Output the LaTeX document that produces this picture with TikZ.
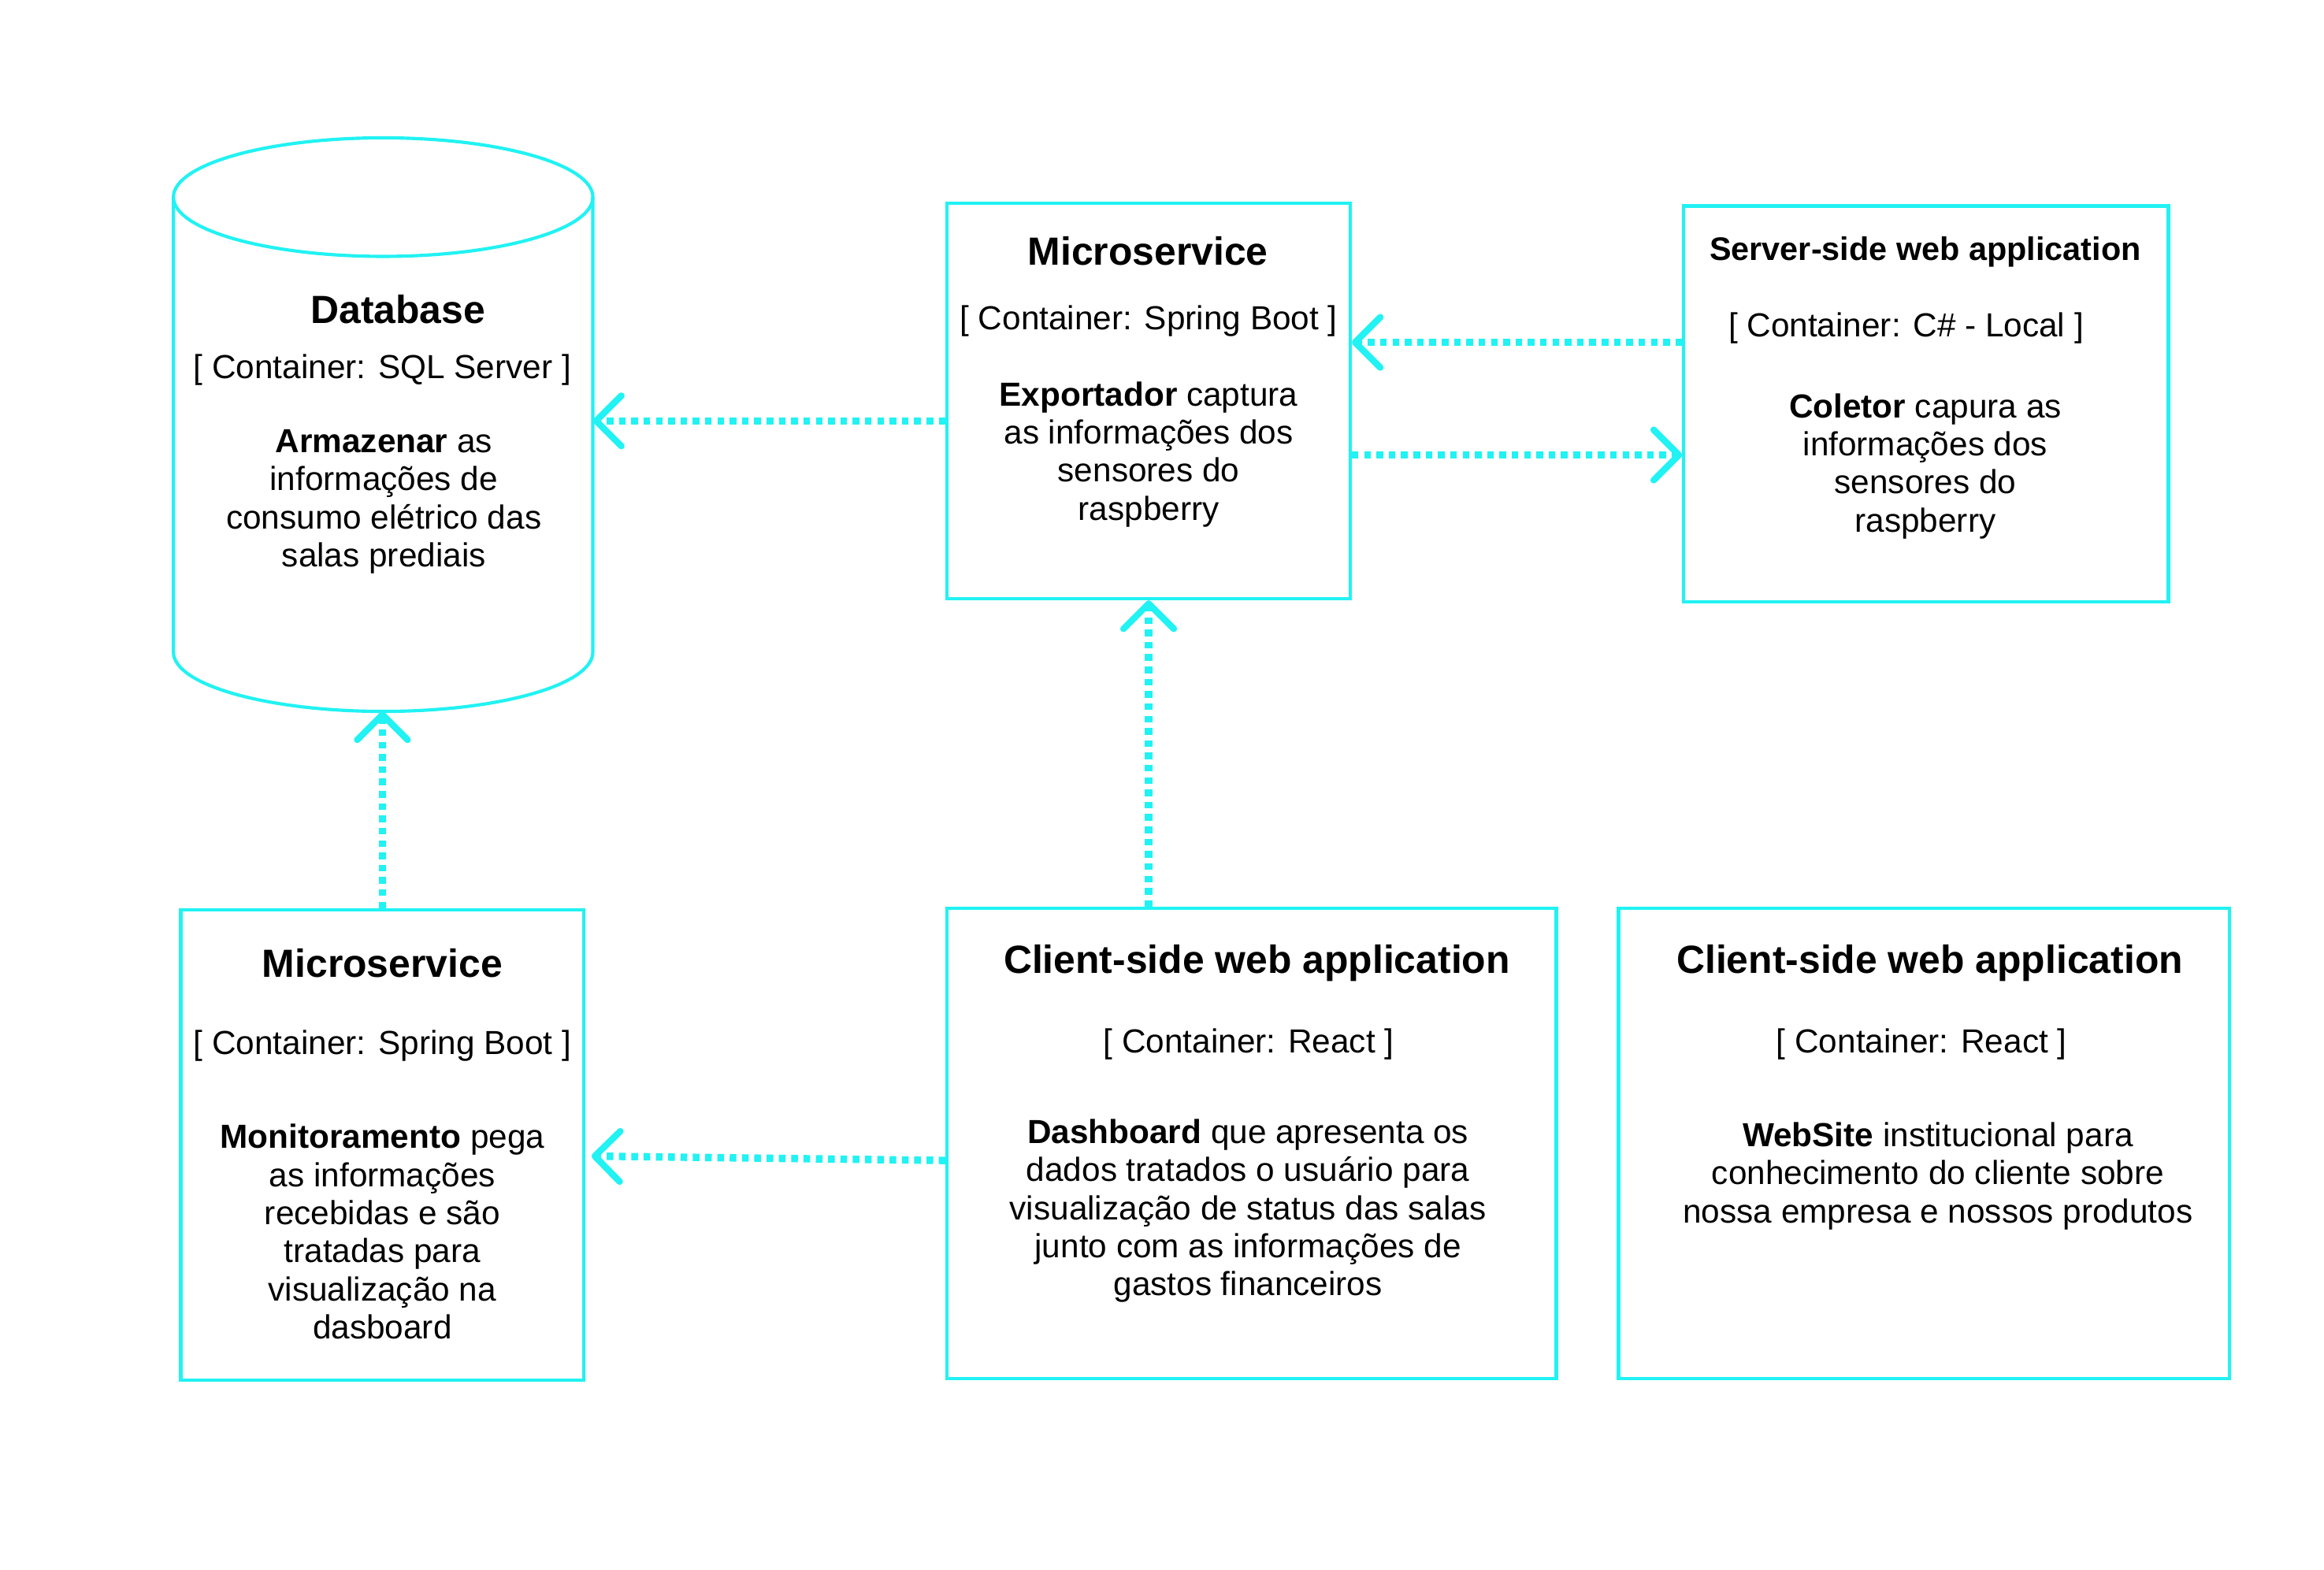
\documentclass[tikz,border=0pt]{standalone}
\usepackage{fontspec}
\setmainfont{Liberation Sans}
\usetikzlibrary{arrows.meta}
\definecolor{cy}{HTML}{21F2F3}
\begin{document}
\begin{tikzpicture}[x=1pt,y=-1pt,
  boxline/.style={draw=cy, line width=2.2pt},
  box/.style={boxline, inner sep=0pt},
  ttl/.style={inner sep=0pt, font=\fontsize{26.5}{30}\selectfont\bfseries},
  ttlsmall/.style={inner sep=0pt, font=\fontsize{22}{26}\selectfont\bfseries},
  tech/.style={inner sep=0pt, font=\fontsize{22.5}{25.7}\selectfont},
  desc/.style={inner sep=0pt, align=center, font=\fontsize{22.5}{25.7}\selectfont},
  link/.style={draw=cy, line width=5pt, dash pattern=on 4.5pt off 3.8pt,
    -{Straight Barb[length=17pt, width=34pt, line width=4.4pt, round]}}
]
\useasboundingbox (0,0) rectangle (1568,1059);

% Database cylinder
\draw[boxline] (258.5,133) ellipse [x radius=141.5, y radius=40];
\draw[boxline] (117,133) -- (117,440)
  .. controls (117,462.1) and (180.35,480) .. (258.5,480)
  .. controls (336.65,480) and (400,462.1) .. (400,440) -- (400,133);
\coordinate (dbR) at (400,284);
\coordinate (dbB) at (258,480);
\node[ttl] (dbtitle) at (268.5,208.5) {Database};
\node[tech] (dbtech) at (258,249.5) {[ Container: SQL Server ]};
\node[desc] (dbdesc) at (259,338.5) {\textbf{Armazenar} as\\informações de\\consumo elétrico das\\salas prediais};

% Microservice (top)
\node[box, minimum width=272, minimum height=267] (ms1) at (775,270.5) {};
\node[ttl] (ms1title) at (774.5,169.5) {Microservice};
\node[tech] (ms1tech) at (775,216.5) {[ Container: Spring Boot ]};
\node[desc] (ms1desc) at (775,306.5) {\textbf{Exportador} captura\\as informações dos\\sensores do\\raspberry};

% Server-side web application
\node[box, minimum width=327, minimum height=267] (ss) at (1299.5,272.5) {};
\node[ttlsmall] (sstitle) at (1299,170) {Server-side web application};
\node[tech] (sstech) at (1286,221.5) {[ Container: C\# - Local ]};
\node[desc] (ssdesc) at (1299,314.5) {\textbf{Coletor} capura as\\informações dos\\sensores do\\raspberry};

% Microservice (bottom)
\node[box, minimum width=272, minimum height=317] (ms2) at (258,772.5) {};
\node[ttl] (ms2title) at (258,650) {Microservice};
\node[tech] (ms2tech) at (258,705.5) {[ Container: Spring Boot ]};
\node[desc] (ms2desc) at (258,831) {\textbf{Monitoramento} pega\\as informações\\recebidas e são\\tratadas para\\visualização na\\dasboard};

% Client-side web application (dashboard)
\node[box, minimum width=411, minimum height=317] (cs1) at (844.5,771.5) {};
\node[ttl] (cs1title) at (848,650) {Client-side web application};
\node[tech] (cs1tech) at (842.5,704.5) {[ Container: React ]};
\node[desc] (cs1desc) at (842,817) {\textbf{Dashboard} que apresenta os\\dados tratados o usuário para\\visualização de status das salas\\junto com as informações de\\gastos financeiros};

% Client-side web application (website)
\node[box, minimum width=412, minimum height=317] (cs2) at (1298,771.5) {};
\node[ttl] (cs2title) at (1302,650) {Client-side web application};
\node[tech] (cs2tech) at (1296.5,704.5) {[ Container: React ]};
\node[desc] (cs2desc) at (1307.5,793.5) {\textbf{WebSite} institucional para\\conhecimento do cliente sobre\\nossa empresa e nossos produtos};

% Connectors
\draw[link] (ms1.west |- dbR) -- (dbR);
\draw[link] (ss.west |- 0,231) -- (ms1.east |- 0,231);
\draw[link] (ms1.east |- 0,307) -- (ss.west |- 0,307);
\draw[link] (cs1.north -| ms1.south) -- (ms1.south);
\draw[link] (ms2.north) -- (dbB);
\draw[link, shorten >=4pt] (cs1.west |- 0,783) -- (ms2.east |- 0,780);
\end{tikzpicture}
\end{document}
